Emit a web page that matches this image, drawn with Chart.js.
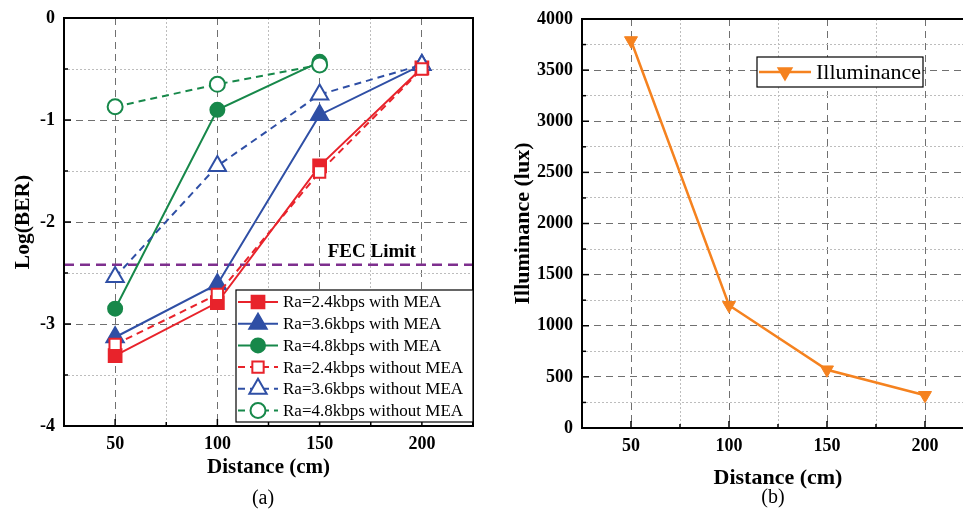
<!DOCTYPE html>
<html>
<head>
<meta charset="utf-8">
<script src="https://cdn.jsdelivr.net/npm/chart.js@4.4.1/dist/chart.umd.min.js"></script>
<style>
html, body { margin: 0; padding: 0; background: #fff; overflow: hidden; width: 963px; height: 509px; }
#chartA { position: absolute; left: 0; top: 0; }
#chartB { position: absolute; left: 500px; top: 0; }
</style>
</head>
<body>
<canvas id="chartA" width="480" height="509"></canvas>
<canvas id="chartB" width="480" height="509"></canvas>
<script>
// data
const distance = [50, 100, 150, 200];
const distShort = [50, 100, 150];
const ber24With = [-3.31, -2.79, -1.45, -0.49];
const ber36With = [-3.13, -2.61, -0.95, -0.46];
const ber48With = [-2.85, -0.90, -0.43];
const ber24Without = [-3.20, -2.71, -1.51, -0.50];
const ber36Without = [-2.54, -1.45, -0.75, -0.46];
const ber48Without = [-0.87, -0.65, -0.46];
const fecLimit = -2.42;
const illuminance = [3790, 1200, 570, 320];
const xMin = 25, xMax = 225;

const SERIF = "'Liberation Serif', 'Times New Roman', serif";
const RED = '#e8232b', BLUE = '#2f4fa5', GREEN = '#17884a', ORANGE = '#f5821f', PURPLE = '#7e2f8e';

function pts(xs, ys) {
    return ys.map((y, i) => ({x: xs[i], y: y}));
}

function series(label, xs, ys, color, style, radius, open) {
    return {
        label: label,
        data: pts(xs, ys),
        borderColor: color,
        backgroundColor: color,
        borderWidth: 2,
        borderDash: open ? [7, 5] : [],
        pointStyle: style,
        pointRadius: radius,
        pointBorderWidth: 2,
        pointBackgroundColor: open ? '#fff' : color,
        pointBorderColor: color,
        tension: 0,
        order: open ? 0 : 1,
    };
}

function gridOpts(isMajor) {
    return {
        grid: {
            drawTicks: false,
            color: c => (c.tick && isMajor(c.tick.value)) ? '#707070' : '#bdbdbd',
            lineWidth: 1,
        },
        border: {
            display: false,
            dash: c => (c.tick && isMajor(c.tick.value)) ? [7, 5] : [2, 2],
        },
    };
}

function tickFont() {
    return {family: SERIF, size: 18, weight: 'bold'};
}

// frame, inward ticks, legend, captions
const decor = {
    id: 'decor',
    afterDatasetsDraw(chart, args, o) {
        const {ctx, chartArea: a, scales} = chart;
        ctx.save();
        ctx.strokeStyle = '#000';
        ctx.lineWidth = 1.5;
        scales.x.ticks.forEach(t => {
            const px = scales.x.getPixelForValue(t.value);
            const len = o.xMajor(t.value) ? 7 : 4;
            ctx.beginPath(); ctx.moveTo(px, a.bottom); ctx.lineTo(px, a.bottom - len); ctx.stroke();
        });
        scales.y.ticks.forEach(t => {
            const py = scales.y.getPixelForValue(t.value);
            const len = o.yMajor(t.value) ? 7 : 4;
            ctx.beginPath(); ctx.moveTo(a.left, py); ctx.lineTo(a.left + len, py); ctx.stroke();
        });
        ctx.lineWidth = 2;
        ctx.strokeRect(a.left, a.top, a.right - a.left, a.bottom - a.top);

        if (o.fec) {
            ctx.fillStyle = '#000';
            ctx.font = 'bold 19px ' + SERIF;
            ctx.textAlign = 'center';
            ctx.textBaseline = 'middle';
            ctx.fillText(o.fec, scales.x.getPixelForValue(o.fecX), scales.y.getPixelForValue(fecLimit) - 13);
        }

        // legend box
        const L = o.legend;
        const items = chart.data.datasets.filter(d => !d.noLegend);
        ctx.fillStyle = '#fff';
        ctx.fillRect(L.x, L.y, L.w, L.h);
        ctx.strokeStyle = '#000';
        ctx.lineWidth = 1.2;
        ctx.strokeRect(L.x, L.y, L.w, L.h);
        items.sort((p, q) => p.legendIndex - q.legendIndex).forEach((d, i) => {
            const cy = L.row0 + i * L.rowH;
            ctx.strokeStyle = d.borderColor;
            ctx.lineWidth = d.borderWidth;
            ctx.setLineDash(d.borderDash);
            ctx.beginPath(); ctx.moveTo(L.lineX0, cy); ctx.lineTo(L.lineX1, cy); ctx.stroke();
            ctx.setLineDash([]);
            ctx.fillStyle = d.pointBackgroundColor;
            ctx.strokeStyle = d.pointBorderColor;
            ctx.lineWidth = 2;
            Chart.helpers.drawPoint(ctx, {
                pointStyle: d.pointStyle,
                rotation: d.pointRotation || 0,
                radius: d.pointRadius,
                borderWidth: 2,
            }, (L.lineX0 + L.lineX1) / 2, cy);
            ctx.fillStyle = '#000';
            ctx.font = L.font + 'px ' + SERIF;
            ctx.textAlign = 'left';
            ctx.textBaseline = 'middle';
            ctx.fillText(d.label, L.textX, cy + 1);
        });
        ctx.restore();
    },
    afterDraw(chart, args, o) {
        const ctx = chart.ctx;
        ctx.save();
        ctx.fillStyle = '#000';
        ctx.font = '20px ' + SERIF;
        ctx.textAlign = 'center';
        ctx.textBaseline = 'middle';
        ctx.fillText(o.caption, o.capX, o.capY);
        ctx.restore();
    }
};

const isHalfStep = v => v % 50 === 0;

// (a) Log(BER) vs distance
const dsA = [
    series('Ra=2.4kbps with MEA', distance, ber24With, RED, 'rect', 9, false),
    series('Ra=3.6kbps with MEA', distance, ber36With, BLUE, 'triangle', 10, false),
    series('Ra=4.8kbps with MEA', distShort, ber48With, GREEN, 'circle', 7, false),
    series('Ra=2.4kbps without MEA', distance, ber24Without, RED, 'rect', 8, true),
    series('Ra=3.6kbps without MEA', distance, ber36Without, BLUE, 'triangle', 10, true),
    series('Ra=4.8kbps without MEA', distShort, ber48Without, GREEN, 'circle', 7.5, true),
];
dsA.forEach((d, i) => { d.legendIndex = i; });
dsA.push({
    label: 'FEC Limit',
    noLegend: true,
    data: [{x: xMin, y: fecLimit}, {x: xMax, y: fecLimit}],
    borderColor: PURPLE,
    borderWidth: 2.5,
    borderDash: [10, 6],
    pointRadius: 0,
    order: 2,
});

new Chart(document.getElementById('chartA'), {
    type: 'line',
    data: {datasets: dsA},
    options: {
        responsive: false,
        animation: false,
        layout: {autoPadding: false, padding: {left: 0, right: 7, top: 18, bottom: 0}},
        plugins: {
            legend: {display: false},
            tooltip: {enabled: false},
            decor: {
                xMajor: isHalfStep,
                yMajor: v => Number.isInteger(v),
                fec: 'FEC Limit', fecX: 175.5,
                legend: {x: 236, y: 290, w: 237, h: 132, row0: 302, rowH: 21.7,
                         lineX0: 238, lineX1: 278, textX: 283, font: 17},
                caption: '(a)', capX: 263, capY: 499,
            },
        },
        scales: {
            x: Object.assign({
                type: 'linear', min: xMin, max: xMax,
                ticks: {stepSize: 25, autoSkip: false, maxRotation: 0, padding: 8, color: '#000', font: tickFont(),
                        callback: v => (v % 50 === 0 && v >= 50 && v <= 200) ? v : ''},
                title: {display: true, text: 'Distance (cm)', color: '#000',
                        font: {family: SERIF, size: 21, weight: 'bold'}, padding: {top: 0, bottom: 29}},
                afterFit: s => { s.height = 83; s.paddingLeft = 0; s.paddingRight = 0; },
            }, gridOpts(isHalfStep)),
            y: Object.assign({
                type: 'linear', min: -4, max: 0,
                ticks: {stepSize: 0.5, autoSkip: false, padding: 9, color: '#000', font: tickFont(),
                        callback: v => Number.isInteger(v) ? v : ''},
                title: {display: true, text: 'Log(BER)', color: '#000',
                        font: {family: SERIF, size: 21.5, weight: 'bold'}, padding: {top: 11, bottom: 0}},
                afterFit: s => { s.width = 64; s.paddingTop = 0; s.paddingBottom = 0; },
            }, gridOpts(v => Number.isInteger(v))),
        },
    },
    plugins: [decor],
});

// (b) Illuminance vs distance
const dsB = [{
    label: 'Illuminance',
    data: pts(distance, illuminance),
    borderColor: ORANGE,
    backgroundColor: ORANGE,
    borderWidth: 2.5,
    borderDash: [],
    pointStyle: 'triangle',
    pointRotation: 180,
    pointRadius: 7.5,
    pointBorderWidth: 1,
    pointBackgroundColor: ORANGE,
    pointBorderColor: ORANGE,
    tension: 0,
    legendIndex: 0,
}];

new Chart(document.getElementById('chartB'), {
    type: 'line',
    data: {datasets: dsB},
    options: {
        responsive: false,
        animation: false,
        layout: {autoPadding: false, padding: {left: 0, right: 6, top: 19, bottom: 0}},
        plugins: {
            legend: {display: false},
            tooltip: {enabled: false},
            decor: {
                xMajor: isHalfStep,
                yMajor: v => v % 500 === 0,
                legend: {x: 257, y: 57, w: 166, h: 30, row0: 72, rowH: 0,
                         lineX0: 259, lineX1: 311, textX: 316, font: 22},
                caption: '(b)', capX: 273, capY: 498,
            },
        },
        scales: {
            x: Object.assign({
                type: 'linear', min: xMin, max: xMax,
                ticks: {stepSize: 25, autoSkip: false, maxRotation: 0, padding: 8, color: '#000', font: tickFont(),
                        callback: v => (v % 50 === 0 && v >= 50 && v <= 200) ? v : ''},
                title: {display: true, text: 'Distance (cm)', color: '#000',
                        font: {family: SERIF, size: 22, weight: 'bold'}, padding: {top: 0, bottom: 17}},
                afterFit: s => { s.height = 81; s.paddingLeft = 0; s.paddingRight = 0; },
            }, gridOpts(isHalfStep)),
            y: Object.assign({
                type: 'linear', min: 0, max: 4000,
                ticks: {stepSize: 250, autoSkip: false, padding: 9, color: '#000', font: tickFont(),
                        callback: v => v % 500 === 0 ? v : ''},
                title: {display: true, text: 'Illuminance (lux)', color: '#000',
                        font: {family: SERIF, size: 22, weight: 'bold'}, padding: {top: 10, bottom: 0}},
                afterFit: s => { s.width = 82; s.paddingTop = 0; s.paddingBottom = 0; },
            }, gridOpts(v => v % 500 === 0)),
        },
    },
    plugins: [decor],
});
</script>
</body>
</html>
